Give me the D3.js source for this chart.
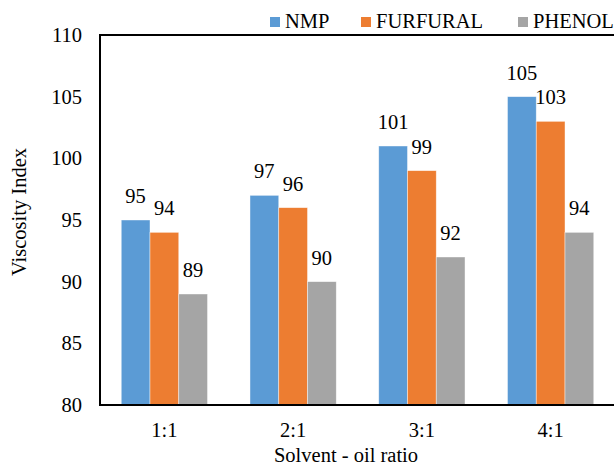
<!DOCTYPE html>
<html>
<head>
<meta charset="utf-8">
<script src="https://cdn.jsdelivr.net/npm/d3@7/dist/d3.min.js"></script>
<style>
  html, body { margin: 0; padding: 0; background: #fff; }
  svg { display: block; }
  svg text { font-family: "Liberation Serif", "Times New Roman", serif !important; fill: #000; }
</style>
</head>
<body>
<svg id="chart" width="614" height="466"></svg>
<script>
// Viscosity index by solvent-to-oil ratio for three extraction solvents
const categories = ["1:1", "2:1", "3:1", "4:1"];
const seriesNames = ["NMP", "FURFURAL", "PHENOL"];
const nmp = [95, 97, 101, 105];
const furfural = [94, 96, 99, 103];
const phenol = [89, 90, 92, 94];
const yTicks = [80, 85, 90, 95, 100, 105, 110];
const colors = ["#5B9BD5", "#ED7D31", "#A5A5A5"];

const seriesValues = [nmp, furfural, phenol];
const rows = categories.map((c, i) => ({
  cat: c,
  vals: seriesNames.map((s, j) => ({ key: s, value: seriesValues[j][i], color: colors[j] }))
}));

const svg = d3.select("#chart");
const plotLeft = 100, plotRight = 615, plotTop = 35, plotBottom = 405;
const fontSize = 20.5;

const x = d3.scaleBand().domain(categories).range([plotLeft, plotRight])
  .paddingInner(0.33).paddingOuter(0.165);
const xs = d3.scaleBand().domain(seriesNames).range([0, x.bandwidth()]);
const y = d3.scaleLinear().domain([80, 110]).range([plotBottom, plotTop]);

// Bars
const groups = svg.append("g").selectAll("g").data(rows).join("g")
  .attr("transform", d => `translate(${x(d.cat)},0)`);

groups.selectAll("rect").data(d => d.vals).join("rect")
  .attr("x", d => xs(d.key))
  .attr("y", d => y(d.value))
  .attr("width", xs.bandwidth())
  .attr("height", d => y(80) - y(d.value))
  .attr("fill", d => d.color)
  .attr("stroke", "rgba(255,255,255,0.6)")
  .attr("stroke-width", 0.7);

// Value labels
groups.selectAll("text").data(d => d.vals).join("text")
  .attr("x", d => xs(d.key) + xs.bandwidth() / 2)
  .attr("y", d => y(d.value) - 17)
  .attr("text-anchor", "middle")
  .attr("font-size", fontSize)
  .text(d => d.value);

// Y axis
const yAxis = svg.append("g").attr("transform", `translate(${plotLeft},0)`)
  .call(d3.axisLeft(y).tickValues(yTicks).tickSize(0).tickPadding(18));
yAxis.select(".domain").remove();
yAxis.selectAll("text").attr("font-size", fontSize);

// X axis
const xAxis = svg.append("g").attr("transform", `translate(0,${plotBottom})`)
  .call(d3.axisBottom(x).tickSize(0).tickPadding(17));
xAxis.select(".domain").remove();
xAxis.selectAll("text").attr("font-size", fontSize);

// Frame
svg.append("line").attr("x1", plotLeft).attr("x2", 614).attr("y1", plotBottom).attr("y2", plotBottom)
  .attr("stroke", "#000").attr("stroke-width", 2);
svg.append("line").attr("x1", plotLeft).attr("x2", plotLeft).attr("y1", plotTop).attr("y2", plotBottom + 1)
  .attr("stroke", "#000").attr("stroke-width", 2);
svg.append("line").attr("x1", plotLeft - 1).attr("x2", 614).attr("y1", plotTop).attr("y2", plotTop)
  .attr("stroke", "#000").attr("stroke-width", 2);

// Axis titles
svg.append("text").attr("transform", "translate(26,212) rotate(-90)")
  .attr("text-anchor", "middle").attr("font-size", fontSize).text("Viscosity Index");
svg.append("text").attr("x", 346).attr("y", 462)
  .attr("text-anchor", "middle").attr("font-size", fontSize).text("Solvent - oil ratio");

// Legend
const legendX = [270, 361, 518];
const legend = svg.append("g").selectAll("g").data(seriesNames).join("g")
  .attr("transform", (d, i) => `translate(${legendX[i]},0)`);
legend.append("rect").attr("x", 0).attr("y", 17).attr("width", 10).attr("height", 10)
  .attr("fill", (d, i) => colors[i]);
legend.append("text").attr("x", 15).attr("y", 28).attr("font-size", fontSize).text(d => d);
</script>
</body>
</html>
